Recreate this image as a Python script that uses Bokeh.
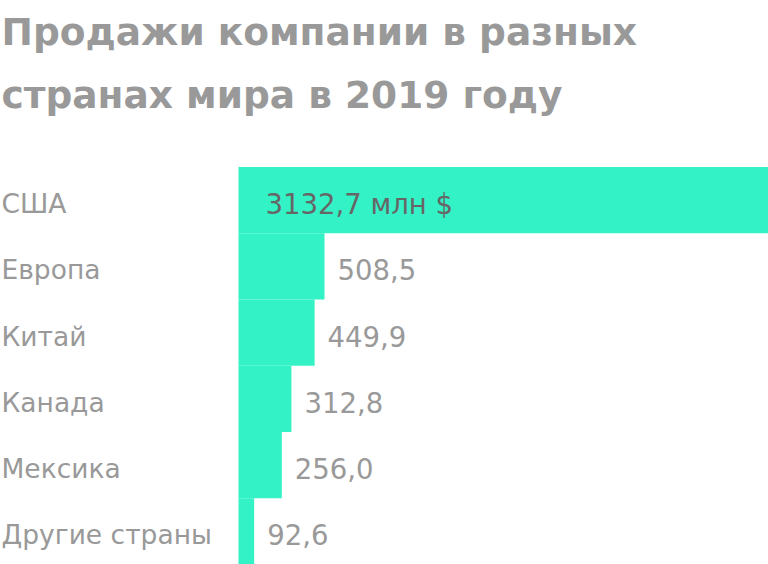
from bokeh.plotting import figure
from bokeh.models import ColumnDataSource, Range1d, LabelSet, Label
from bokeh.core.properties import value
from bokeh.embed import file_html
from bokeh.resources import INLINE

title_lines = ["Продажи компании в разных", "странах мира в 2019 году"]
countries = ["США", "Европа", "Китай", "Канада", "Мексика", "Другие страны"]
sales = [3132.7, 508.5, 449.9, 312.8, 256.0, 92.6]
unit = "млн $"

BAR = "#33F3C6"
GRAY = "#999999"
DARK = "#666666"
FONT = "DejaVu Sans"

W, H = 768, 564
LEFT_PX = 238      # where bars start
TOP_PX = 166.5     # top of first bar
n = len(countries)
row_px = (H - TOP_PX) / n

fmt = [f"{v:.1f}".replace(".", ",") for v in sales]
rows = list(range(n))

xmax = max(sales)
x0 = -LEFT_PX / (W - LEFT_PX) * xmax
p = figure(width=W, height=H, output_backend="svg", toolbar_location=None,
           x_range=Range1d(x0, xmax),
           y_range=Range1d(n - 0.5, -0.5 - TOP_PX / row_px),
           min_border_left=0, min_border_right=0, min_border_top=0, min_border_bottom=0)
p.xaxis.visible = False
p.yaxis.visible = False
p.xgrid.visible = False
p.ygrid.visible = False
p.outline_line_color = None
p.background_fill_color = "white"
p.border_fill_color = "white"

src = ColumnDataSource(dict(row=rows, country=countries, sales=sales, label=fmt,
                            zero=[0] * n))
p.hbar(y="row", right="sales", left=0, height=1.0, source=src,
       fill_color=BAR, line_color=None)

cat_labels = LabelSet(x="zero", y="row", text="country", source=src,
                      x_offset=-237, y_offset=-13, text_align="left",
                      text_baseline="alphabetic", text_font=value(FONT),
                      text_font_size=value("26.5px"), text_color=value(GRAY))
p.add_layout(cat_labels)

rest = ColumnDataSource(dict(row=rows[1:], sales=sales[1:], label=fmt[1:]))
val_labels = LabelSet(x="sales", y="row", text="label", source=rest,
                      x_offset=13, y_offset=-14, text_align="left",
                      text_baseline="alphabetic", text_font=value(FONT),
                      text_font_size=value("27.5px"), text_color=value(GRAY))
p.add_layout(val_labels)

first = ColumnDataSource(dict(row=rows[:1], zero=[0], label=[f"{fmt[0]} {unit}"]))
top = LabelSet(x="zero", y="row", text="label", source=first,
               x_offset=27, y_offset=-14, text_align="left",
               text_baseline="alphabetic", text_font=value(FONT),
               text_font_size=value("27.5px"), text_color=value(DARK))
p.add_layout(top)

for i, line in enumerate(title_lines):
    p.add_layout(Label(x=1, y=H - 31 - 63 * i, x_units="screen", y_units="screen",
                       text=line, text_align="left", text_baseline="alphabetic",
                       text_font=FONT, text_font_style="bold",
                       text_font_size="37.5px", text_color=GRAY))

open("out.html", "w").write(file_html(p, INLINE))
